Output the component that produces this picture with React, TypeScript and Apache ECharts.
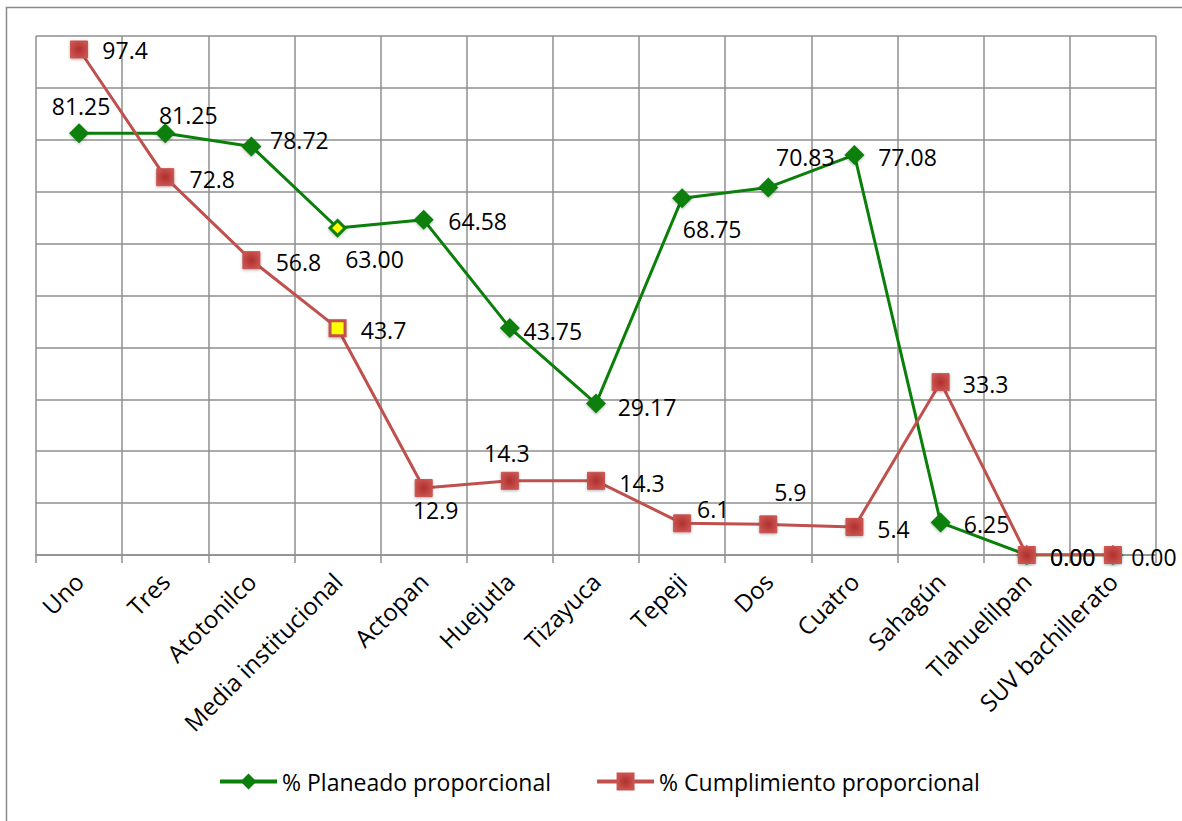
import React, { useEffect, useRef } from "react";
import * as echarts from "echarts";

const categories = [
  "Uno", "Tres", "Atotonilco", "Media institucional", "Actopan", "Huejutla",
  "Tizayuca", "Tepeji", "Dos", "Cuatro", "Sahagún", "Tlahuelilpan", "SUV bachillerato",
];
const planeado = [81.25, 81.25, 78.72, 63.0, 64.58, 43.75, 29.17, 68.75, 70.83, 77.08, 6.25, 0, 0];
const cumplimiento = [97.4, 72.8, 56.8, 43.7, 12.9, 14.3, 14.3, 6.1, 5.9, 5.4, 33.3, 0, 0];
const yTicks = { min: 0, max: 100, interval: 10 };
const highlightIndex = 3;

// label offsets (text centre relative to point centre)
const planeadoLabelOffsets = [
  [2, -27], [23, -18], [48, -6], [37, 31], [54, 1], [43, 3], [51, 3],
  [30, 31], [37, -30], [53, 2], [46, 1], [46, 2], null,
];
const cumplimientoLabelOffsets = [
  [46, 1], [47, 2], [47, 2], [46, 2], [12, 22], [-3, -28], [46, 2],
  [31, -14], [22, -32], [39, 2], [45, 2], [46, 2], [41, 2],
];

const GREEN = "#0a7f0a";
const RED = "#c0504d";
const GRID = "#8f8f8f";
const FONT = "Open Sans";

export default function App() {
  const ref = useRef<HTMLDivElement>(null);
  useEffect(() => {
    if (!ref.current) return;
    const chart = echarts.init(ref.current, null, { renderer: "svg" });
    const labelBase = {
      show: true,
      position: "inside",
      align: "center",
      verticalAlign: "middle",
      color: "#000",
      fontFamily: FONT,
      fontSize: 23,
    };
    const greenData = planeado.map((v, i) => {
      const off = planeadoLabelOffsets[i];
      const item: any = {
        value: v,
        label: off ? { ...labelBase, offset: off } : { show: false },
      };
      if (i === highlightIndex) {
        item.itemStyle = { color: "#ffff00", borderColor: GREEN, borderWidth: 3 };
        item.symbolSize = 15;
      }
      return item;
    });
    const redData = cumplimiento.map((v, i) => {
      const off = cumplimientoLabelOffsets[i];
      const item: any = {
        value: v,
        label: off ? { ...labelBase, offset: off } : { show: false },
      };
      if (i === highlightIndex) {
        item.itemStyle = { color: "#ffff00", borderColor: RED, borderWidth: 3 };
        item.symbolSize = 15;
      }
      return item;
    });
    chart.setOption({
      animation: false,
      backgroundColor: "#ffffff",
      graphic: [
        {
          type: "rect",
          shape: { x: 6.5, y: 7.5, width: 1300, height: 1000 },
          style: { fill: "none", stroke: "#8a8a8a", lineWidth: 1.5 },
          silent: true,
          z: -10,
        },
      ],
      grid: { left: 36, right: 26, top: 36, bottom: 266 },
      legend: {
        left: 218,
        top: 770,
        padding: 0,
        itemWidth: 57,
        itemHeight: 20,
        itemGap: 44,
        lineStyle: { width: 4 },
        textStyle: { fontFamily: FONT, fontSize: 23, color: "#000" },
        data: ["% Planeado proporcional", "% Cumplimiento proporcional"],
      },
      xAxis: {
        type: "category",
        data: categories,
        boundaryGap: true,
        axisLine: { show: true, lineStyle: { color: GRID, width: 1.5 } },
        axisTick: { show: true, length: 8, interval: 0, lineStyle: { color: GRID, width: 1.5 } },
        splitLine: { show: true, interval: 0, lineStyle: { color: GRID, width: 1.5 } },
        axisLabel: {
          interval: 0,
          rotate: 45,
          margin: 22,
          color: "#000",
          fontFamily: FONT,
          fontSize: 24,
        },
      },
      yAxis: {
        type: "value",
        min: yTicks.min,
        max: yTicks.max,
        interval: yTicks.interval,
        axisLine: { show: false },
        axisTick: { show: false },
        axisLabel: { show: false },
        splitLine: { show: true, lineStyle: { color: GRID, width: 1.5 } },
      },
      series: [
        {
          name: "% Planeado proporcional",
          type: "line",
          data: greenData,
          symbol: "diamond",
          symbolSize: 20,
          lineStyle: { color: GREEN, width: 3 },
          label: { formatter: (p: any) => Number(p.value).toFixed(2) },
          itemStyle: {
            color: GREEN,
            shadowBlur: 3,
            shadowColor: "rgba(0,0,0,0.3)",
            shadowOffsetY: 1,
          },
          z: 2,
        },
        {
          name: "% Cumplimiento proporcional",
          type: "line",
          data: redData,
          symbol: "rect",
          symbolSize: 17,
          lineStyle: { color: RED, width: 3 },
          label: {
            formatter: (p: any) =>
              Number(p.value) === 0 ? "0.00" : Number(p.value).toFixed(1),
          },
          itemStyle: {
            color: {
              type: "radial",
              x: 0.5,
              y: 0.5,
              r: 0.7,
              colorStops: [
                { offset: 0, color: "#b0302d" },
                { offset: 1, color: "#cf5d59" },
              ],
            },
            borderColor: "#c9524f",
            borderWidth: 1,
            shadowBlur: 3,
            shadowColor: "rgba(0,0,0,0.3)",
            shadowOffsetY: 1,
          },
          z: 3,
        },
      ],
    });
    return () => chart.dispose();
  }, []);
  return (
    <div
      ref={ref}
      style={{ position: "fixed", left: 0, top: 0, width: 1182, height: 821 }}
    />
  );
}
